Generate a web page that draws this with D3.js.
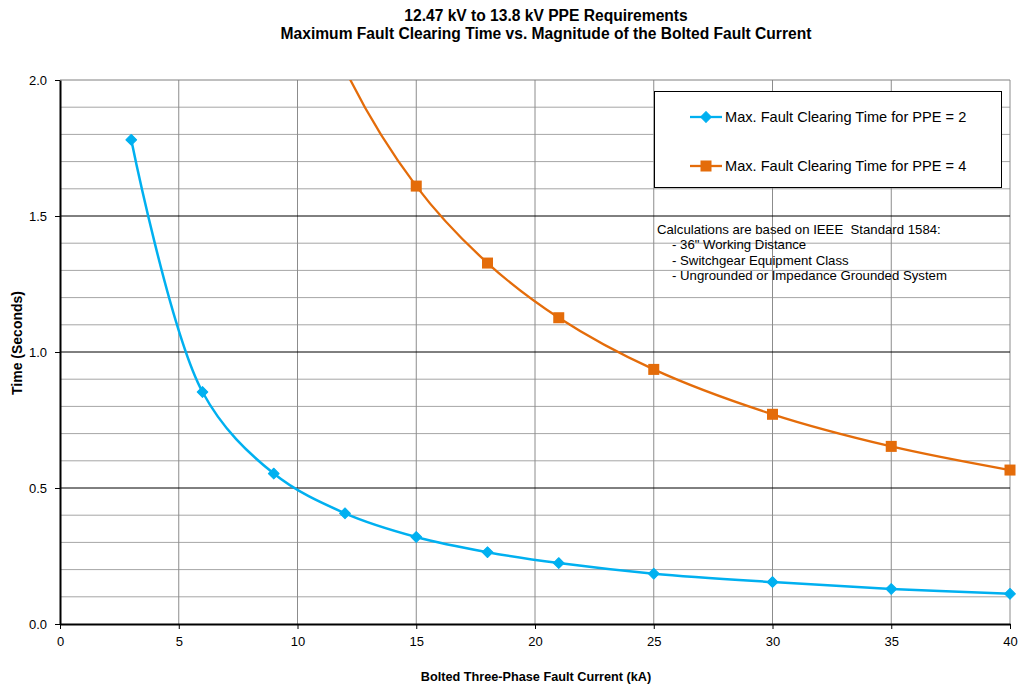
<!DOCTYPE html>
<html><head><meta charset="utf-8">
<script src="https://cdnjs.cloudflare.com/ajax/libs/d3/7.8.5/d3.min.js"></script>
<style>body{margin:0;background:#fff;} svg{display:block;font-family:"Liberation Sans",Arial,sans-serif;}</style>
</head><body>
<svg id="c" width="1018" height="685"></svg>
<script>
const currentsPPE2 = [3, 6, 9, 12, 15, 18, 21, 25, 30, 35, 40];
const timesPPE2 = [1.78, 0.853, 0.553, 0.407, 0.32, 0.264, 0.224, 0.185, 0.154, 0.129, 0.111];
const currentsPPE4 = [9, 12, 15, 18, 21, 25, 30, 35, 40];
const timesPPE4 = [2.75, 2.04, 1.61, 1.327, 1.126, 0.936, 0.771, 0.653, 0.566];
const xTicks = [0, 5, 10, 15, 20, 25, 30, 35, 40];
const yTicks = [0, 0.5, 1.0, 1.5, 2.0];
const yMinor = [0.1,0.2,0.3,0.4,0.6,0.7,0.8,0.9,1.1,1.2,1.3,1.4,1.6,1.7,1.8,1.9];
const legendLabels = ["Max. Fault Clearing Time for PPE = 2", "Max. Fault Clearing Time for PPE = 4"];
const noteLines = ["Calculations are based on IEEE  Standard 1584:", "- 36\" Working Distance", "- Switchgear Equipment Class", "- Ungrounded or Impedance Grounded System"];
const titleLines = ["12.47 kV to 13.8 kV PPE Requirements", "Maximum Fault Clearing Time vs. Magnitude of the Bolted Fault Current"];

const svg = d3.select("#c");
const L = 60, R = 1010, T = 80, B = 624;
const x = d3.scaleLinear().domain([0, 40]).range([L, R]);
const y = d3.scaleLinear().domain([0, 2]).range([B, T]);
const blue = "#00B0F0", orange = "#E46C0A";

svg.append("defs").append("clipPath").attr("id","clip").append("rect")
  .attr("x", L).attr("y", T).attr("width", R - L + 10).attr("height", B - T);

// grid
const g = svg.append("g");
g.selectAll(".hm").data(yMinor).join("line")
  .attr("x1", L).attr("x2", R).attr("y1", d => y(d)).attr("y2", d => y(d))
  .attr("stroke", "#a6a6a6").attr("stroke-width", 1);
g.selectAll(".vg").data(xTicks.slice(1)).join("line")
  .attr("x1", d => x(d)).attr("x2", d => x(d)).attr("y1", T).attr("y2", B)
  .attr("stroke", "#8c8c8c").attr("stroke-width", 1);
g.selectAll(".hM").data(yTicks.slice(1)).join("line")
  .attr("x1", L).attr("x2", R).attr("y1", d => y(d)).attr("y2", d => y(d))
  .attr("stroke", d => d === 2 ? "#808080" : "#000").attr("stroke-width", 1);

// axes
const xAxis = svg.append("g").attr("transform", `translate(0,${B})`)
  .call(d3.axisBottom(x).tickValues(xTicks).tickSize(5).tickSizeOuter(0).tickFormat(d3.format("d")));
const yAxis = svg.append("g").attr("transform", `translate(${L},0)`)
  .call(d3.axisLeft(y).tickValues(yTicks).tickSize(5).tickSizeOuter(0).tickFormat(d3.format(".1f")));
[xAxis, yAxis].forEach(a => {
  a.select(".domain").attr("stroke", "#000").attr("stroke-width", 2);
  a.selectAll(".tick line").attr("stroke", "#000").attr("stroke-width", 1);
  a.selectAll("text").attr("font-family", "Liberation Sans, Arial, sans-serif").attr("font-size", 13).attr("fill", "#000");
});
xAxis.selectAll("text").attr("dy", "0.9em").attr("y", 10);
yAxis.selectAll("text").attr("x", -13);

// lines
const line = d3.line().x(d => x(d[0])).y(d => y(d[1])).curve(d3.curveCatmullRom.alpha(0.5));
const s1 = currentsPPE2.map((c, i) => [c, timesPPE2[i]]);
const s2 = currentsPPE4.map((c, i) => [c, timesPPE4[i]]);
const plot = svg.append("g").attr("clip-path", "url(#clip)");
plot.append("path").attr("d", line(s2)).attr("fill", "none").attr("stroke", orange).attr("stroke-width", 2.3);
plot.append("path").attr("d", line(s1)).attr("fill", "none").attr("stroke", blue).attr("stroke-width", 2.5);

const diamondPath = d3.symbol().type(d3.symbolSquare).size(58);
svg.append("g").selectAll("path").data(s1).join("path")
  .attr("d", diamondPath)
  .attr("transform", d => `translate(${x(d[0])},${y(d[1])}) rotate(45)`)
  .attr("fill", blue).attr("stroke", blue).attr("stroke-width", 1).attr("stroke-linejoin", "round");
svg.append("g").selectAll("rect").data(s2.filter(d => d[1] <= 2)).join("rect")
  .attr("x", d => x(d[0]) - 5.5).attr("y", d => y(d[1]) - 5.5).attr("width", 11).attr("height", 11)
  .attr("fill", orange);

// legend
const lg = svg.append("g");
lg.append("rect").attr("x", 654.5).attr("y", 91.5).attr("width", 347).attr("height", 96)
  .attr("fill", "#fff").attr("stroke", "#000").attr("stroke-width", 1);
const ly = [117, 166];
const lc = [blue, orange];
legendLabels.forEach((t, i) => {
  lg.append("line").attr("x1", 690).attr("x2", 722).attr("y1", ly[i]).attr("y2", ly[i])
    .attr("stroke", lc[i]).attr("stroke-width", 2.3);
  if (i === 0) {
    lg.append("path").attr("d", diamondPath())
      .attr("transform", `translate(706,${ly[i]}) rotate(45)`).attr("fill", blue)
      .attr("stroke", blue).attr("stroke-width", 1).attr("stroke-linejoin", "round");
  } else {
    lg.append("rect").attr("x", 700.5).attr("y", ly[i] - 5.5).attr("width", 11).attr("height", 11).attr("fill", orange);
  }
  lg.append("text").attr("x", 725).attr("y", ly[i]).attr("dy", "0.35em")
    .attr("font-size", 14.6).attr("fill", "#000").text(t);
});

// note
noteLines.forEach((t, i) => {
  svg.append("text").attr("x", i === 0 ? 657 : 672).attr("y", 234 + i * 15.3)
    .attr("font-size", 13.2).attr("fill", "#000").style("white-space", "pre").text(t);
});

// titles
titleLines.forEach((t, i) => {
  svg.append("text").attr("x", 546).attr("y", 20.5 + i * 18).attr("text-anchor", "middle")
    .attr("font-size", 15.6).attr("font-weight", "bold").attr("fill", "#000").text(t);
});
svg.append("text").attr("x", 536).attr("y", 681).attr("text-anchor", "middle")
  .attr("font-size", 12.7).attr("font-weight", "bold").text("Bolted Three-Phase Fault Current (kA)");
svg.append("text").attr("transform", "translate(22,343) rotate(-90)").attr("text-anchor", "middle")
  .attr("font-size", 14).attr("font-weight", "bold").text("Time (Seconds)");
</script>
</body></html>
